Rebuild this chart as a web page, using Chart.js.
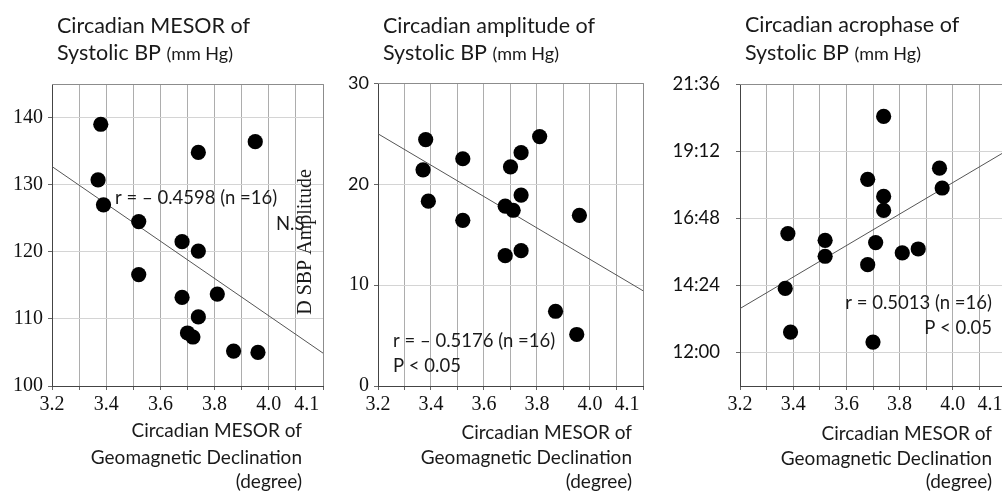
<!DOCTYPE html>
<html>
<head>
<meta charset="utf-8">
<script src="https://cdn.jsdelivr.net/npm/chart.js@4.4.1/dist/chart.umd.min.js"></script>
<style>
html,body{margin:0;padding:0;background:#fff;overflow:hidden;width:1002px;height:493px;}
canvas.panel{position:absolute;top:0;}
</style>
</head>
<body>
<canvas id="c1" class="panel" width="340" height="493" style="left:0px"></canvas>
<canvas id="c2" class="panel" width="370" height="493" style="left:290px"></canvas>
<canvas id="c3" class="panel" width="360" height="493" style="left:660px"></canvas>
<script>
// ---------- data ----------
// x: circadian MESOR of geomagnetic declination (degree)
const mesorX1 = [3.37, 3.38, 3.39, 3.52, 3.52, 3.68, 3.68, 3.70, 3.72, 3.74, 3.74, 3.74, 3.81, 3.87, 3.95, 3.96];
const sbpMesor = [130.7, 139.0, 127.0, 124.5, 116.6, 121.5, 113.2, 107.9, 107.3, 134.8, 120.1, 110.3, 113.7, 105.2, 136.4, 105.0];

const mesorX2 = [3.37, 3.38, 3.39, 3.52, 3.52, 3.68, 3.68, 3.70, 3.71, 3.74, 3.74, 3.74, 3.81, 3.87, 3.95, 3.96];
const sbpAmplitude = [21.4, 24.4, 18.3, 22.5, 16.4, 17.8, 12.9, 21.7, 17.4, 23.1, 18.9, 13.4, 24.7, 7.4, 5.1, 16.9];

const mesorX3 = [3.37, 3.38, 3.39, 3.52, 3.52, 3.68, 3.68, 3.70, 3.71, 3.74, 3.74, 3.74, 3.81, 3.87, 3.95, 3.96];
const sbpAcrophaseHours = [14.29, 16.25, 12.73, 16.01, 15.44, 18.19, 15.14, 12.37, 15.93, 20.44, 17.58, 17.08, 15.56, 15.70, 18.59, 17.88];

// regression lines (end points at x = 3.2 and 4.2)
const fitX = [3.2, 4.2];
const fitMesor = [132.7, 104.9];
const fitAmplitude = [24.97, 9.43];
const fitAcrophase = [13.57, 19.2];

// axes
const xGridValues = [3.2, 3.3, 3.4, 3.5, 3.6, 3.7, 3.8, 3.9, 4.0, 4.1, 4.2];
const xLabelPositions = [3.2, 3.4, 3.6, 3.8, 4.0, 4.14];
const xTickLabels = ['3.2', '3.4', '3.6', '3.8', '4.0', '4.1'];

const yTicks1 = [100, 110, 120, 130, 140];
const yTickLabels1 = ['100', '110', '120', '130', '140'];
const yTicks2 = [0, 10, 20, 30];
const yTickLabels2 = ['0', '10', '20', '30'];
const yTicks3 = [12.0, 14.4, 16.8, 19.2, 21.6];
const yTickLabels3 = ['12:00', '14:24', '16:48', '19:12', '21:36'];

const titles1 = ['Circadian MESOR of', 'Systolic BP ', '(mm Hg)'];
const titles2 = ['Circadian amplitude of', 'Systolic BP ', '(mm Hg)'];
const titles3 = ['Circadian acrophase of', 'Systolic BP ', '(mm Hg)'];
const xTitleLines = ['Circadian MESOR of', 'Geomagnetic Declination', '(degree)'];
const stats1 = ['r = \u2013 0.4598 (n =16)', 'N.S'];
const stats2 = ['r = \u2013 0.5176 (n =16)', 'P < 0.05'];
const stats3 = ['r = 0.5013 (n =16)', 'P < 0.05'];
const yTitle2 = 'D SBP Amplitude';

// ---------- styles ----------
const SANS = 'Lato';
const SERIF = 'Liberation Serif';
const fTitle = '21.5px ' + SANS;
const fTitleSmall = '18px ' + SANS;
const fXTitle = '19px ' + SANS;
const fStat = '18.5px ' + SANS;
const TXT = '#1a1a1a';

// ---------- plugins ----------
const panelText = {
  id: 'panelText',
  afterDraw(chart, args, opts) {
    const ctx = chart.ctx;
    for (const it of (opts.items || [])) {
      ctx.save();
      ctx.fillStyle = TXT;
      ctx.textBaseline = 'alphabetic';
      ctx.textAlign = 'left';
      let total = 0;
      const runs = it.runs.map(r => { ctx.font = r.font; const w = ctx.measureText(r.text).width; total += w; return {text: r.text, font: r.font, w}; });
      let x = it.align === 'right' ? it.x - total : it.x;
      for (const r of runs) { ctx.font = r.font; ctx.fillText(r.text, x, it.y); x += r.w; }
      ctx.restore();
    }
  }
};
const frame = {
  id: 'frame',
  beforeDatasetsDraw(chart, args, opts) {
    const {left, top, right, bottom} = chart.chartArea;
    const ctx = chart.ctx;
    ctx.save();
    ctx.strokeStyle = opts.color || '#8c8c8c';
    ctx.lineWidth = 1;
    ctx.beginPath();
    ctx.moveTo(Math.round(left), Math.round(top) + 0.5);
    ctx.lineTo(Math.round(right) + 0.5, Math.round(top) + 0.5);
    ctx.lineTo(Math.round(right) + 0.5, Math.round(bottom));
    ctx.stroke();
    ctx.restore();
  }
};

const near = (a, b) => Math.abs(a - b) < 1e-6;
const xTickValues = xGridValues.concat(xLabelPositions.filter(p => !xGridValues.some(g => near(g, p)))).sort((a, b) => a - b);

function xScale(axisH) {
  return {
    type: 'linear', min: 3.2, max: 4.2,
    afterFit: s => { s.height = axisH; },
    afterBuildTicks: axis => { axis.ticks = xTickValues.map(v => ({value: v})); },
    ticks: {
      autoSkip: false, maxRotation: 0, padding: 3, color: '#111',
      font: {family: SERIF, size: 20},
      callback: v => { const i = xLabelPositions.findIndex(p => near(p, v)); return i >= 0 ? xTickLabels[i] : ''; }
    },
    grid: {
      tickLength: 4,
      color: c => (c.tick && xGridValues.some(g => near(g, c.tick.value))) ? '#adadad' : 'rgba(0,0,0,0)',
      tickColor: c => (c.tick && xGridValues.some(g => near(g, c.tick.value))) ? '#666' : 'rgba(0,0,0,0)'
    },
    border: {color: '#444', width: 1}
  };
}

function yScale(o) {
  return {
    type: 'linear', min: o.min, max: o.max,
    afterFit: s => { s.width = o.width; },
    afterBuildTicks: axis => { axis.ticks = o.ticks.map(v => ({value: v})); },
    ticks: {
      padding: o.padding, color: '#111', font: o.font,
      callback: v => { const i = o.ticks.findIndex(t => near(t, v)); return i >= 0 ? o.labels[i] : ''; }
    },
    grid: {tickLength: 4, color: '#d4d4d4', tickColor: '#666'},
    border: {color: '#444', width: 1},
    title: o.title || {display: false}
  };
}

function makePanel(id, p) {
  return new Chart(document.getElementById(id), {
    type: 'scatter',
    data: {
      datasets: [
        {type: 'scatter', data: p.xs.map((x, i) => ({x, y: p.ys[i]})), pointRadius: 7.6, pointHoverRadius: 7.6,
         backgroundColor: '#000', borderWidth: 0, order: 0},
        {type: 'line', data: fitX.map((x, i) => ({x, y: p.fit[i]})), borderColor: '#555', borderWidth: 1,
         pointRadius: 0, fill: false, order: 1}
      ]
    },
    options: {
      responsive: false, animation: false, events: [],
      layout: {padding: {top: p.top, right: p.right, left: 0, bottom: 0}},
      plugins: {legend: {display: false}, tooltip: {enabled: false}, panelText: {items: p.texts}, frame: {color: '#8c8c8c'}},
      scales: {x: xScale(p.xAxisH), y: yScale(p.y)}
    },
    plugins: [panelText, frame]
  });
}

function xTitleItems(right, b) {
  return xTitleLines.map((t, i) => ({align: 'right', x: right, y: b[i], runs: [{text: t, font: fXTitle}]}));
}
function titleItems(t, x, b1, b2) {
  return [
    {x, y: b1, runs: [{text: t[0], font: fTitle}]},
    {x, y: b2, runs: [{text: t[1], font: fTitle}, {text: t[2], font: fTitleSmall}]}
  ];
}

// Panel 1
makePanel('c1', {
  xs: mesorX1, ys: sbpMesor, fit: fitMesor, top: 84, right: 17, xAxisH: 107,
  y: {min: 100, max: 145, width: 52, padding: 5, ticks: yTicks1, labels: yTickLabels1, font: {family: SERIF, size: 20}},
  texts: [].concat(
    titleItems(titles1, 57, 33, 60),
    xTitleItems(302, [437, 464, 488]),
    [{x: 115, y: 204, runs: [{text: stats1[0], font: fStat}]},
     {x: 276, y: 230, runs: [{text: stats1[1], font: fStat}]}]
  )
});

// Panel 2
makePanel('c2', {
  xs: mesorX2, ys: sbpAmplitude, fit: fitAmplitude, top: 83, right: 17, xAxisH: 107,
  y: {min: 0, max: 30, width: 88, padding: 5, ticks: yTicks2, labels: yTickLabels2,
      font: c => (c.tick && c.tick.value >= 20) ? {family: SANS, size: 18} : {family: SERIF, size: 20},
      title: {display: true, text: yTitle2 + '\u00a0\u00a0\u00a0', color: '#1a1a1a', font: {family: SERIF, size: 20}, padding: {top: 4, bottom: 0}}},
  texts: [].concat(
    titleItems(titles2, 93, 33, 60),
    xTitleItems(342, [439, 464, 488]),
    [{x: 103, y: 347, runs: [{text: stats2[0], font: fStat}]},
     {x: 103, y: 372, runs: [{text: stats2[1], font: fStat}]}]
  )
});

// Panel 3
makePanel('c3', {
  xs: mesorX3, ys: sbpAcrophaseHours, fit: fitAcrophase, top: 84, right: 14, xAxisH: 107,
  y: {min: 10.8, max: 21.6, width: 80, padding: 16, ticks: yTicks3, labels: yTickLabels3, font: {family: SANS, size: 18.5}},
  texts: [].concat(
    titleItems(titles3, 85, 32, 59.5),
    xTitleItems(332, [440, 465, 488]),
    [{align: 'right', x: 332, y: 309, runs: [{text: stats3[0], font: fStat}]},
     {align: 'right', x: 332, y: 334, runs: [{text: stats3[1], font: fStat}]}]
  )
});
</script>
</body>
</html>
